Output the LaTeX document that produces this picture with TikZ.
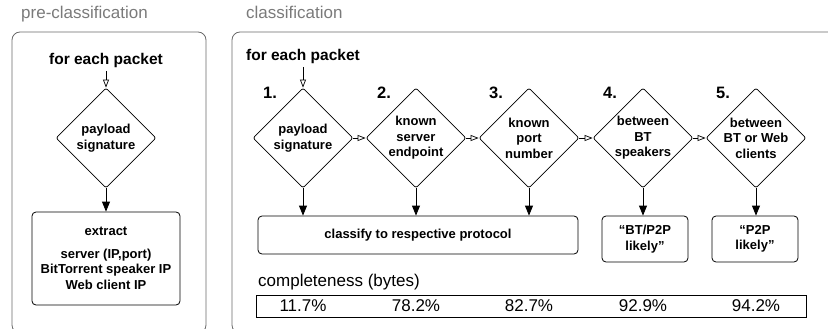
\documentclass[tikz,border=0pt]{standalone}
\usepackage{fontspec}
\setmainfont{Liberation Sans}
\usepackage{xcolor}
\usetikzlibrary{arrows.meta,shapes.geometric,positioning}
\definecolor{framegray}{HTML}{6A6A6A}
\definecolor{titlegray}{HTML}{7A7A7A}
\newcommand{\BoldFont}{\fontsize{13}{15.5}\selectfont\bfseries}
\newcommand{\HeadFont}{\fontsize{15.5}{18}\selectfont\bfseries}
\newcommand{\PlainFont}{\fontsize{17}{20}\selectfont}

\begin{document}
\begin{tikzpicture}[x=1pt,y=-1pt,
  decision/.style={draw,line width=0.8pt,diamond,aspect=1,rounded corners=2pt,
    minimum width=100pt,minimum height=100pt,inner sep=-3pt,align=center,font=\BoldFont},
  outbox/.style={draw,line width=0.8pt,rounded corners=4pt,align=center,font=\BoldFont},
  panel/.style={draw=framegray,line width=0.8pt,rounded corners=8pt},
  paneltitle/.style={text=titlegray,font=\PlainFont,anchor=base west,inner sep=0pt},
  numlabel/.style={font=\fontsize{16.5}{18}\selectfont\bfseries},
  flow/.style={-{Triangle[length=10pt,width=8pt]},line width=0.8pt},
  openflow/.style={-{Triangle[open,length=8pt,width=6pt]},line width=0.7pt}]
\useasboundingbox (0,0) rectangle (828,329);

% panels
\draw[panel] (12,32) rectangle (206,333);
\draw[panel] (232,32) rectangle (850,333);
\node[paneltitle] (pretitle) at (21,19) {pre-classification};
\node[paneltitle] (clstitle) at (246,19) {classification};

% pre-classification
\node[font=\HeadFont] (prepkt) at (106,60) {for each packet};
\node[decision] (presig) at (106,138) {payload\\signature};
\node[outbox,minimum width=148pt,minimum height=93pt] (extract) at (106,258.5)
  {extract\\[7pt]server (IP,port)\\BitTorrent speaker IP\\Web client IP};
\draw[openflow] (prepkt) -- (presig.north);
\draw[flow] (presig.south) -- (extract.north);

% classification
\node[font=\HeadFont] (clspkt) at (303,56) {for each packet};
\node[decision] (sig) at (303,138) {payload\\signature};
\node[decision] (srv) at (416,138) {known\\server\\endpoint};
\node[decision] (port) at (529,138) {known\\port\\number};
\node[decision] (bt) at (643,138) {between\\BT\\speakers};
\node[decision] (web) at (756,138) {between\\BT or Web\\clients};
\node[numlabel] (num1) at (270,93) {1.};
\node[numlabel] (num2) at (384,93) {2.};
\node[numlabel] (num3) at (496,93) {3.};
\node[numlabel] (num4) at (610,93) {4.};
\node[numlabel] (num5) at (723,93) {5.};
\draw[openflow] (clspkt) -- (sig.north);
\draw[openflow] (sig.east) -- (srv.west);
\draw[openflow] (srv.east) -- (port.west);
\draw[openflow] (port.east) -- (bt.west);
\draw[openflow] (bt.east) -- (web.west);

\node[outbox,minimum width=320pt,minimum height=38pt] (classify) at (418,235)
  {classify to respective protocol};
\node[outbox,minimum width=86pt,minimum height=46pt] (btlikely) at (645,239)
  {“BT/P2P\\likely”};
\node[outbox,minimum width=86pt,minimum height=46pt] (p2plikely) at (755,239)
  {“P2P\\likely”};
\draw[flow] (sig.south) -- (sig.south |- classify.north);
\draw[flow] (srv.south) -- (srv.south |- classify.north);
\draw[flow] (port.south) -- (port.south |- classify.north);
\draw[flow] (bt.south) -- (bt.south |- btlikely.north);
\draw[flow] (web.south) -- (web.south |- p2plikely.north);

% completeness row
\node[font=\PlainFont,anchor=west,inner sep=0pt] (compl) at (258,282) {completeness (bytes)};
\node[draw,line width=0.8pt,minimum width=550pt,minimum height=22pt] (pctbox) at (531,306) {};
\node[font=\PlainFont] (pct1) at (sig |- pctbox) {11.7\%};
\node[font=\PlainFont] (pct2) at (srv |- pctbox) {78.2\%};
\node[font=\PlainFont] (pct3) at (port |- pctbox) {82.7\%};
\node[font=\PlainFont] (pct4) at (bt |- pctbox) {92.9\%};
\node[font=\PlainFont] (pct5) at (web |- pctbox) {94.2\%};
\end{tikzpicture}
\end{document}
